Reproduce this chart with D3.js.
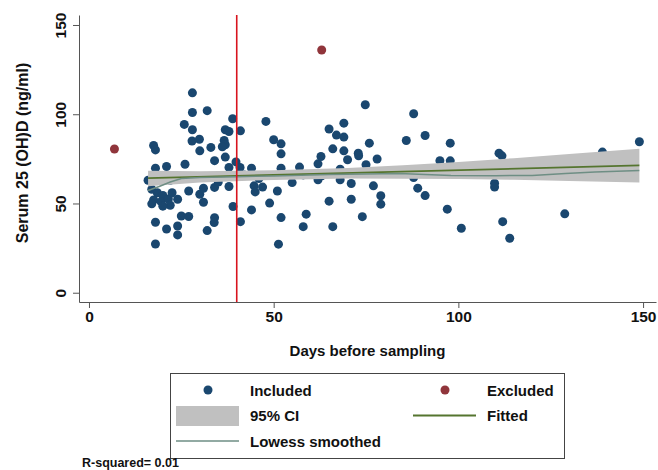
<!DOCTYPE html>
<html><head><meta charset="utf-8">
<script src="https://cdn.jsdelivr.net/npm/d3@7"></script>
<style>body{margin:0;background:#fff}svg{display:block}text{font-family:"Liberation Sans",Arial,sans-serif;fill:#111}</style>
</head><body><svg id="c" width="658" height="470"></svg>
<script>
// ---- data ----
const includedDays = [16,17.5,18,18,21,26,17,18.5,20,17.5,19.5,21.5,22,20,17,24,22.5,27,30,31,34,31,25,27,24,24,21,18,34,33.9,32,18,41,39,37.9,
28,28,32,38.9,25.8,28,36.9,37.9,41,47.9,50,27.9,29.9,30,33,36.6,36.9,36.1,36.9,34,39.8,40.9,44,37.9,52,52,52,57,62,62.8,65,69,67,69,66,69,70,72.9,73,74.8,75.9,78,75,68,
87.9,85.9,91,44.7,47,45,51,55,62,68,71,77,79,79,71,65,48.9,44,52,58.8,58,66,74,89,91,97.8,95,97.8,87.9,97,100.8,111,111.8,109.8,109.8,112,113.9,128.8,139,149,51.3,
22,30,35,42,46,58,63,92];
const includedVals = [63,82.5,80,69.8,70.7,72,58,56,54.5,52,51,52.5,49,48.5,49.8,52.4,56,57,55.2,58.5,59,50.7,43,42.7,37.4,32.4,35.7,39.5,42,39.3,34.8,27.3,39.8,48.3,59.5,
112,101,102,97.5,94.3,91.3,91.3,90.3,90.7,96,85.7,85,86,79.5,81.4,85.3,82.9,81.8,76,74,73.3,70.2,69.8,70.2,83.4,77.8,69.8,70.4,72.2,76.3,91.7,95,88.3,87.2,80.6,79.5,74.5,78.2,76.7,105.3,83.8,74.9,71.7,69.2,
100.3,85.3,88.1,59.9,59.2,56.5,57,61.7,63.3,63.3,61.2,59.9,54.3,49.6,52.4,51.3,50.2,46.4,42.1,44,37,37,42.6,58.6,54.4,83.8,74,73.9,64.5,46.8,36.1,78.2,76.7,61.4,59.2,39.8,30.5,44.2,78.8,84.6,27.2,
63,65,62,66,64,66,65.5,68];
const excludedDays = [6.9, 63];
const excludedVals = [80.5, 136];
const ciDays  = [16, 30, 50, 70, 85, 100, 115, 130, 149];
const ciLower = [59.6, 61.8, 63.2, 64.0, 63.8, 63.7, 63.3, 62.6, 61.7];
const ciUpper = [68.4, 68.0, 68.6, 69.9, 71.4, 73.3, 75.4, 77.7, 80.6];
const fitDays = [16, 149];
const fitVals = [64.2, 71.3];
const lowDays = [16, 19, 22, 25, 30, 40, 50, 65, 84, 91, 98, 110, 120, 129, 137, 149];
const lowVals = [57.3, 59.5, 62, 64, 64.6, 65, 65.4, 66.2, 66.8, 66.2, 65.7, 65.6, 65.7, 66.8, 67.6, 68.5];
const cutoffDay = 40;
const xTicks = [0, 50, 100, 150];
const yTicks = [0, 50, 100, 150];
const xTitle = "Days before sampling";
const yTitle = "Serum 25 (OH)D (ng/ml)";
const legendItems = ["Included", "Excluded", "95% CI", "Fitted", "Lowess smoothed"];
const note = "R-squared= 0.01";

// ---- chart ----
const svg = d3.select("#c");
const L = 79, R = 656, T = 15, B = 302;
const x = d3.scaleLinear().domain([-2.7, 153.5]).range([L, R]);
const y = d3.scaleLinear().domain([-5.2, 155.6]).range([B, T]);
const C = {navy:"#1a476f", maroon:"#90353b", ci:"#c0c0c0", green:"#55752f", teal:"#6e8e84", red:"#d8141e", axis:"#555"};

const xa = svg.append("g").attr("transform",`translate(0,${B})`)
  .call(d3.axisBottom(x).tickValues(xTicks).tickSizeInner(6).tickSizeOuter(0).tickPadding(3));
const ya = svg.append("g").attr("transform",`translate(${L},0)`)
  .call(d3.axisLeft(y).tickValues(yTicks).tickSizeInner(6).tickSizeOuter(0).tickPadding(3));
[xa,ya].forEach(a=>{a.selectAll("path,line").attr("stroke",C.axis);a.selectAll("text").attr("font-family",'"Liberation Sans",Arial,sans-serif').attr("font-size",15.5).attr("font-weight","bold").attr("fill","#111");});
ya.selectAll(".tick text").attr("text-anchor","middle")
  .each(function(){d3.select(this).attr("x",null).attr("dy",null).attr("transform","translate(-13,0) rotate(-90)");});

// points
const inc = includedDays.map((d,i)=>[d, includedVals[i]]);
svg.append("g").selectAll("circle").data(inc).join("circle")
  .attr("cx",d=>x(d[0])).attr("cy",d=>y(d[1])).attr("r",4.5).attr("fill",C.navy);
const exc = excludedDays.map((d,i)=>[d, excludedVals[i]]);
svg.append("g").selectAll("circle").data(exc).join("circle")
  .attr("cx",d=>x(d[0])).attr("cy",d=>y(d[1])).attr("r",4.5).attr("fill",C.maroon);

// CI band
const ci = ciDays.map((d,i)=>({d, lo:ciLower[i], hi:ciUpper[i]}));
svg.append("path").datum(ci).attr("fill",C.ci)
  .attr("d", d3.area().x(d=>x(d.d)).y0(d=>y(d.lo)).y1(d=>y(d.hi)));
// fitted
svg.append("path").datum(fitDays.map((d,i)=>[d,fitVals[i]])).attr("fill","none").attr("stroke",C.green).attr("stroke-width",1.8)
  .attr("d", d3.line().x(d=>x(d[0])).y(d=>y(d[1])));
// lowess
svg.append("path").datum(lowDays.map((d,i)=>[d,lowVals[i]])).attr("fill","none").attr("stroke",C.teal).attr("stroke-width",1.5)
  .attr("d", d3.line().x(d=>x(d[0])).y(d=>y(d[1])));
// cutoff line
svg.append("line").attr("x1",x(cutoffDay)).attr("x2",x(cutoffDay)).attr("y1",T).attr("y2",B).attr("stroke",C.red).attr("stroke-width",1.6);

// titles
svg.append("text").attr("x",(L+R)/2).attr("y",356).attr("text-anchor","middle").attr("font-size",15).attr("font-weight","bold").text(xTitle);
svg.append("text").attr("transform",`translate(28,153) rotate(-90)`).attr("text-anchor","middle").attr("font-size",16).attr("font-weight","bold").text(yTitle);

// legend
const lg = svg.append("g");
lg.append("rect").attr("x",170.5).attr("y",373.5).attr("width",394).attr("height",85).attr("fill","#fff").attr("stroke","#444").attr("stroke-width",1);
const fs = 15;
lg.append("circle").attr("cx",208).attr("cy",390).attr("r",4.5).attr("fill",C.navy);
lg.append("text").attr("x",250).attr("y",395.5).attr("font-size",fs).attr("font-weight","bold").text(legendItems[0]);
lg.append("circle").attr("cx",445).attr("cy",390).attr("r",4.5).attr("fill",C.maroon);
lg.append("text").attr("x",487).attr("y",395.5).attr("font-size",fs).attr("font-weight","bold").text(legendItems[1]);
lg.append("rect").attr("x",176).attr("y",406).attr("width",63).attr("height",20).attr("fill",C.ci);
lg.append("text").attr("x",250).attr("y",421).attr("font-size",fs).attr("font-weight","bold").text(legendItems[2]);
lg.append("line").attr("x1",413).attr("x2",476).attr("y1",415.5).attr("y2",415.5).attr("stroke",C.green).attr("stroke-width",1.8);
lg.append("text").attr("x",487).attr("y",421).attr("font-size",fs).attr("font-weight","bold").text(legendItems[3]);
lg.append("line").attr("x1",176).attr("x2",239).attr("y1",441).attr("y2",441).attr("stroke",C.teal).attr("stroke-width",1.5);
lg.append("text").attr("x",250).attr("y",446.5).attr("font-size",fs).attr("font-weight","bold").text(legendItems[4]);

svg.append("text").attr("x",82).attr("y",467).attr("font-size",12.5).attr("font-weight","bold").text(note);
</script></body></html>
